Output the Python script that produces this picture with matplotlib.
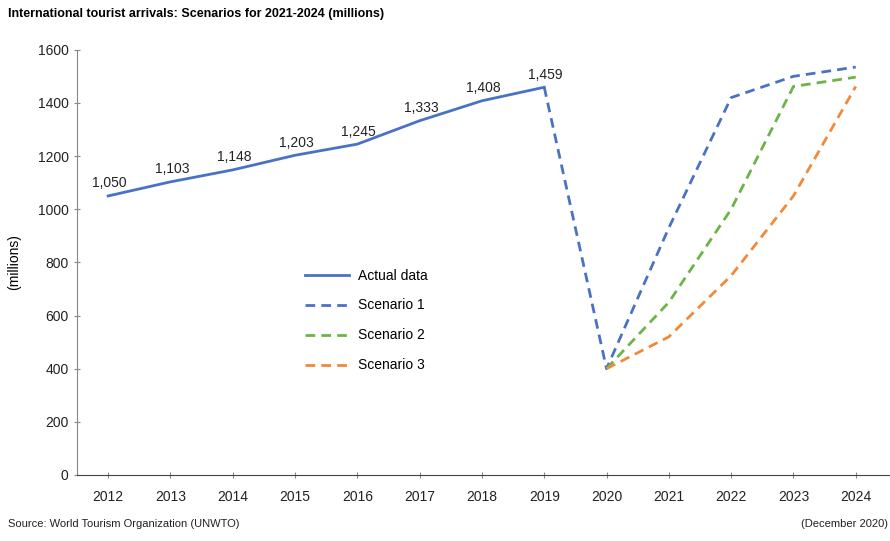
import numpy as np
import matplotlib.pyplot as plt

plt.rcParams['font.family'] = ['Liberation Sans', 'DejaVu Sans']

# Datos
anos_reales = [2012, 2013, 2014, 2015, 2016, 2017, 2018, 2019]
llegadas = [1050, 1103, 1148, 1203, 1245, 1333, 1408, 1459]

anos_esc1 = [2019, 2020, 2021, 2022, 2023, 2024]
esc1 = [1459, 400, 930, 1420, 1500, 1535]

anos_esc = [2020, 2021, 2022, 2023, 2024]
esc2 = [400, 650, 1000, 1462, 1497]
esc3 = [400, 520, 750, 1050, 1462]

anos_ticks = list(range(2012, 2025))
y_ticks = [0, 200, 400, 600, 800, 1000, 1200, 1400, 1600]

azul = '#4a72c4'
verde = '#6cb446'
naranja = '#f08a3a'


def main():
    fig = plt.figure(figsize=(8.9, 5.41), dpi=100)
    ax = fig.add_axes([0.0865, 0.122, 0.9135, 0.786])

    ax.plot(anos_reales, llegadas, color=azul, lw=2, label='Actual data')
    ax.plot(anos_esc1, esc1, color=azul, lw=2, ls=(0, (3.5, 2.2)), label='Scenario 1')
    ax.plot(anos_esc, esc2, color=verde, lw=2, ls=(0, (3.5, 2.2)), label='Scenario 2')
    ax.plot(anos_esc, esc3, color=naranja, lw=2, ls=(0, (3.5, 2.2)), label='Scenario 3')

    # etiquetas de los datos reales
    for x, y in zip(anos_reales, llegadas):
        ax.annotate(f'{y:,}', (x, y), xytext=(1, 4), textcoords='offset points',
                    ha='center', va='bottom', fontsize=10, color='#222222')

    ax.set_xlim(2011.5, 2024.55)
    ax.set_ylim(0, 1600)
    ax.set_xticks(anos_ticks)
    ax.set_yticks(y_ticks)
    ax.tick_params(axis='both', direction='inout', length=5, color='#888888',
                   labelsize=10, labelcolor='#222222')
    ax.tick_params(axis='x', pad=8)
    for s in ['top', 'right']:
        ax.spines[s].set_visible(False)
    ax.spines['left'].set_color('#888888')
    ax.spines['bottom'].set_color('#444444')
    ax.set_ylabel('(millions)', fontsize=10, labelpad=12)

    ax.legend(loc='upper left', bbox_to_anchor=(0.265, 0.515), frameon=False,
              fontsize=10, handlelength=3.2, labelspacing=1.15, handletextpad=0.6)

    fig.text(0.009, 0.975, 'International tourist arrivals: Scenarios for 2021-2024 (millions)',
             fontsize=9, fontweight='bold', ha='left', va='center')
    fig.text(0.009, 0.031, 'Source: World Tourism Organization (UNWTO)',
             fontsize=8, ha='left', va='center', color='#222222')
    fig.text(0.998, 0.031, '(December 2020)', fontsize=8, ha='right', va='center',
             color='#222222')

    fig.savefig('out.png', dpi=100)


if __name__ == '__main__':
    main()
